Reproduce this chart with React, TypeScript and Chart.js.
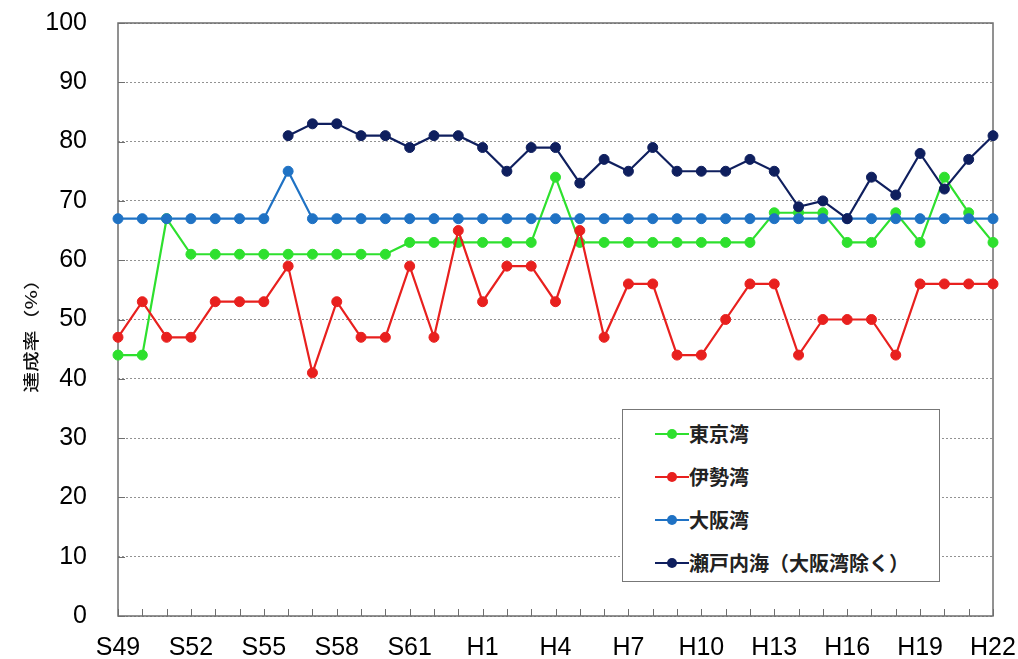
import React, { useEffect, useRef } from 'react';
import { Chart, registerables } from 'chart.js';

Chart.register(...registerables);

const categories = [
  'S49', 'S50', 'S51', 'S52', 'S53', 'S54', 'S55', 'S56', 'S57', 'S58', 'S59', 'S60', 'S61', 'S62', 'S63',
  'H1', 'H2', 'H3', 'H4', 'H5', 'H6', 'H7', 'H8', 'H9', 'H10', 'H11', 'H12', 'H13', 'H14', 'H15', 'H16',
  'H17', 'H18', 'H19', 'H20', 'H21', 'H22',
];

const shownTickLabels = ['S49', 'S52', 'S55', 'S58', 'S61', 'H1', 'H4', 'H7', 'H10', 'H13', 'H16', 'H19', 'H22'];

const tokyoBay = [
  44, 44, 67, 61, 61, 61, 61, 61, 61, 61, 61, 61, 63, 63, 63, 63, 63, 63, 74, 63, 63, 63, 63, 63, 63, 63, 63,
  68, 68, 68, 63, 63, 68, 63, 74, 68, 63,
];

const iseBay = [
  47, 53, 47, 47, 53, 53, 53, 59, 41, 53, 47, 47, 59, 47, 65, 53, 59, 59, 53, 65, 47, 56, 56, 44, 44,
  50, 56, 56, 44, 50, 50, 50, 44, 56, 56, 56, 56,
];

const osakaBay = [
  67, 67, 67, 67, 67, 67, 67, 75, 67, 67, 67, 67, 67, 67, 67, 67, 67, 67, 67, 67, 67, 67, 67, 67, 67,
  67, 67, 67, 67, 67, 67, 67, 67, 67, 67, 67, 67,
];

const setoInlandSea = [
  null, null, null, null, null, null, null,
  81, 83, 83, 81, 81, 79, 81, 81, 79, 75, 79, 79, 73, 77, 75, 79, 75, 75,
  75, 77, 75, 69, 70, 67, 74, 71, 78, 72, 77, 81,
];

const seriesNames = ['東京湾', '伊勢湾', '大阪湾', '瀬戸内海（大阪湾除く）'];
const seriesColors = ['#2ee02e', '#e8201e', '#1f72c4', '#0f1f5e'];
const yAxisTitle = '達成率（%）';

const W = 1018;
const H = 659;

const framePlugin = {
  id: 'frame',
  beforeDatasetsDraw(chart: any) {
    const { ctx, chartArea, scales } = chart;
    const x = scales.x;
    const y = scales.y;
    ctx.save();
    ctx.strokeStyle = '#6e6e6e';
    ctx.lineWidth = 1.5;
    ctx.setLineDash([]);
    ctx.strokeRect(chartArea.left, chartArea.top, chartArea.right - chartArea.left, chartArea.bottom - chartArea.top);
    ctx.lineWidth = 1;
    ctx.beginPath();
    for (let i = 0; i < categories.length; i++) {
      const px = Math.round(x.getPixelForValue(i)) + 0.5;
      ctx.moveTo(px, chartArea.bottom);
      ctx.lineTo(px, chartArea.bottom - 7);
    }
    for (let v = 0; v <= 100; v += 10) {
      const py = Math.round(y.getPixelForValue(v)) + 0.5;
      ctx.moveTo(chartArea.left, py);
      ctx.lineTo(chartArea.left + 7, py);
    }
    ctx.stroke();
    ctx.restore();
  },
  afterDraw(chart: any) {
    const { ctx } = chart;
    ctx.save();
    ctx.translate(31, 331);
    ctx.rotate(-Math.PI / 2);
    ctx.scale(1.3, 1);
    ctx.fillStyle = '#111';
    ctx.font = '500 16px "Noto Sans CJK JP", sans-serif';
    ctx.textAlign = 'center';
    ctx.textBaseline = 'middle';
    ctx.fillText(yAxisTitle, 0, 0);
    ctx.restore();
  },
};

export default function App() {
  const ref = useRef<HTMLCanvasElement | null>(null);

  useEffect(() => {
    if (!ref.current) return;
    const data = [tokyoBay, iseBay, osakaBay, setoInlandSea];
    const chart = new Chart(ref.current, {
      type: 'line',
      data: {
        labels: categories,
        datasets: data.map((d, i) => ({
          label: seriesNames[i],
          data: d,
          order: data.length - i,
          borderColor: seriesColors[i],
          backgroundColor: seriesColors[i],
          pointBackgroundColor: seriesColors[i],
          pointBorderColor: seriesColors[i],
          pointRadius: 5,
          pointBorderWidth: 1,
          borderWidth: 2.2,
          tension: 0,
          spanGaps: false,
        })),
      },
      options: {
        responsive: false,
        animation: false,
        layout: { padding: { left: 0, top: 23, right: 25, bottom: 0 } },
        plugins: {
          legend: { display: false },
          tooltip: { enabled: false },
        },
        scales: {
          x: {
            grid: { display: false, drawTicks: false },
            border: { display: false },
            ticks: {
              autoSkip: false,
              maxRotation: 0,
              minRotation: 0,
              padding: 17,
              color: '#000',
              font: { family: '"Liberation Sans", Arial, sans-serif', size: 25 },
              callback: (_v: any, i: number) => (shownTickLabels.includes(categories[i]) ? categories[i] : ''),
            },
            afterFit: (s: any) => {
              s.height = 43;
              s.paddingLeft = 0;
              s.paddingRight = 0;
            },
          },
          y: {
            min: 0,
            max: 100,
            grid: { color: 'rgba(110,110,110,0.75)', lineWidth: 1, drawTicks: false },
            border: { display: false, dash: [2, 2] },
            ticks: {
              stepSize: 10,
              padding: 31,
              color: '#000',
              font: { family: '"Liberation Sans", Arial, sans-serif', size: 25 },
            },
            afterFit: (s: any) => {
              s.width = 118;
              s.paddingTop = 0;
              s.paddingBottom = 0;
            },
          },
        },
      },
      plugins: [framePlugin],
    });
    return () => chart.destroy();
  }, []);

  const rowTops = [434, 477, 520, 563];

  return (
    <div style={{ position: 'fixed', left: 0, top: 0, width: W, height: H, background: '#fff' }}>
      <canvas ref={ref} width={W} height={H} style={{ display: 'block' }} />
      <div
        style={{
          position: 'absolute',
          left: 622,
          top: 409,
          width: 318,
          height: 173,
          border: '1.5px solid #777',
          background: '#fff',
          boxSizing: 'border-box',
        }}
      />
      {seriesNames.map((name, i) => (
        <div key={name} style={{ position: 'absolute', left: 655, top: rowTops[i] - 13, height: 26, display: 'flex', alignItems: 'center' }}>
          <div style={{ position: 'relative', width: 34, height: 26 }}>
            <div style={{ position: 'absolute', left: 0, top: 12, width: 34, height: 2.2, background: seriesColors[i] }} />
            <div
              style={{
                position: 'absolute',
                left: 12,
                top: 8,
                width: 10,
                height: 10,
                borderRadius: '50%',
                background: seriesColors[i],
              }}
            />
          </div>
          <span
            style={{
              fontFamily: '"Noto Sans CJK JP", sans-serif',
              fontSize: 20,
              fontWeight: 700,
              color: '#222',
              lineHeight: '26px',
              whiteSpace: 'nowrap',
            }}
          >
            {name}
          </span>
        </div>
      ))}
    </div>
  );
}
